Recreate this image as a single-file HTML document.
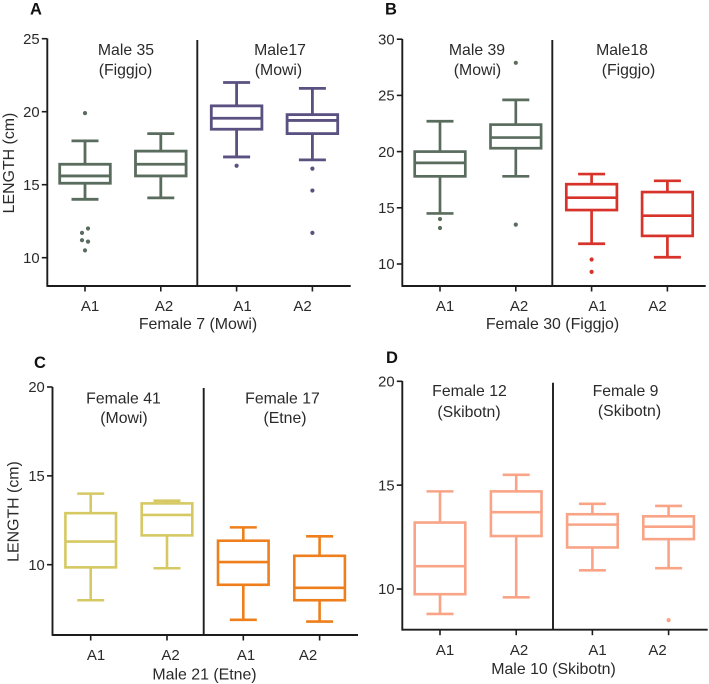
<!DOCTYPE html>
<html lang="en">
<head>
<meta charset="utf-8">
<title>Length boxplots by family</title>
<style>
  html, body { margin: 0; padding: 0; background: #fff; }
  svg { display: block; }
  text { font-family: "Liberation Sans", Arial, sans-serif; fill: #2a2a2a; }
  .group { font-size: 15.8px; text-anchor: middle; }
  .cat { font-size: 15px; text-anchor: middle; }
  .ttl { font-size: 15.9px; text-anchor: middle; }
  .letter { font-size: 16.5px; font-weight: bold; fill: #111; }
  .tick { font-size: 14.8px; text-anchor: end; }
</style>
</head>
<body>
<svg id="figure" width="709" height="684" viewBox="0 0 709 684" xmlns="http://www.w3.org/2000/svg">
  <rect x="0" y="0" width="709" height="684" fill="#fff"/>

  <g>
    <text class="letter" x="30" y="14.5">A</text>
    <text class="ttl" transform="translate(14 163) rotate(-90)">LENGTH (cm)</text>
    <text class="group" x="126" y="55">Male 35</text>
    <text class="group" x="125.5" y="75">(Figgjo)</text>
    <text class="group" x="280" y="55">Male17</text>
    <text class="group" x="278.5" y="75">(Mowi)</text>
    <text class="cat" x="90" y="311">A1</text>
    <text class="cat" x="164" y="311">A2</text>
    <text class="cat" x="242.5" y="311">A1</text>
    <text class="cat" x="302.5" y="311">A2</text>
    <text class="ttl" x="198" y="329">Female 7 (Mowi)</text>
  </g>

  <g>
    <text class="letter" x="385" y="14.5">B</text>
    <text class="group" x="477" y="55">Male 39</text>
    <text class="group" x="477.5" y="75">(Mowi)</text>
    <text class="group" x="622" y="55">Male18</text>
    <text class="group" x="628.5" y="75">(Figgjo)</text>
    <text class="cat" x="445" y="311">A1</text>
    <text class="cat" x="519" y="311">A2</text>
    <text class="cat" x="597.5" y="311">A1</text>
    <text class="cat" x="657.5" y="311">A2</text>
    <text class="ttl" x="552.5" y="329">Female 30 (Figgjo)</text>
  </g>

  <g>
    <text class="letter" x="34" y="368">C</text>
    <text class="ttl" transform="translate(18.5 511.5) rotate(-90)">LENGTH (cm)</text>
    <text class="group" x="123.5" y="403.5">Female 41</text>
    <text class="group" x="124" y="423">(Mowi)</text>
    <text class="group" x="282.5" y="403.5">Female 17</text>
    <text class="group" x="285" y="423">(Etne)</text>
    <text class="cat" x="96" y="660">A1</text>
    <text class="cat" x="170.5" y="660">A2</text>
    <text class="cat" x="246" y="660">A1</text>
    <text class="cat" x="308" y="660">A2</text>
    <text class="ttl" x="204.5" y="679.5">Male 21 (Etne)</text>
  </g>

  <g>
    <text class="letter" x="386" y="363">D</text>
    <text class="group" x="469.5" y="396">Female 12</text>
    <text class="group" x="469" y="417">(Skibotn)</text>
    <text class="group" x="625.5" y="396">Female 9</text>
    <text class="group" x="629.5" y="416">(Skibotn)</text>
    <text class="cat" x="445" y="655">A1</text>
    <text class="cat" x="519" y="655">A2</text>
    <text class="cat" x="597.5" y="655">A1</text>
    <text class="cat" x="657.5" y="655">A2</text>
    <text class="ttl" x="553.5" y="674">Male 10 (Skibotn)</text>
  </g>
</svg>

<script>
// ---------- Chart values ----------
const panelATicks = [10, 15, 20, 25];
const panelAHigh = [18.0, 18.5, 22.0, 21.6];
const panelAQ3 = [16.4, 17.3, 20.4, 19.8];
const panelAMedian = [15.6, 16.4, 19.55, 19.4];
const panelAQ1 = [15.1, 15.6, 18.8, 18.5];
const panelALow = [14.0, 14.1, 16.9, 16.7];
const panelAOutliers = [[19.9, 12.0, 11.7, 11.2, 11.1, 10.5], [], [16.3], [16.1, 14.6, 11.7]];

const panelBTicks = [10, 15, 20, 25, 30];
const panelBHigh = [22.7, 24.6, 18.0, 17.4];
const panelBQ3 = [20.0, 22.4, 17.1, 16.4];
const panelBMedian = [19.0, 21.25, 15.9, 14.3];
const panelBQ1 = [17.8, 20.3, 14.8, 12.5];
const panelBLow = [14.5, 17.8, 11.8, 10.6];
const panelBOutliers = [[14.0, 13.2], [27.9, 13.5], [10.4, 9.3], []];

const panelCTicks = [10, 15, 20];
const panelCHigh = [14.0, 13.6, 12.1, 11.6];
const panelCQ3 = [12.9, 13.45, 11.35, 10.5];
const panelCMedian = [11.3, 12.8, 10.15, 8.7];
const panelCQ1 = [9.85, 11.65, 8.87, 8.0];
const panelCLow = [8.0, 9.8, 6.9, 6.8];
const panelCOutliers = [[], [], [], []];

const panelDTicks = [10, 15, 20];
const panelDHigh = [14.7, 15.5, 14.1, 14.0];
const panelDQ3 = [13.2, 14.7, 13.6, 13.5];
const panelDMedian = [11.1, 13.7, 13.1, 13.0];
const panelDQ1 = [9.75, 12.55, 12.0, 12.4];
const panelDLow = [8.8, 9.6, 10.9, 11.0];
const panelDOutliers = [[], [], [], [8.5]];

// ---------- Drawing ----------
const NS = 'http://www.w3.org/2000/svg';
const figure = document.getElementById('figure');

function mk(parent, tag, attrs) {
  const el = document.createElementNS(NS, tag);
  for (const k in attrs) el.setAttribute(k, attrs[k]);
  parent.appendChild(el);
  return el;
}

function line(parent, x1, y1, x2, y2, color, width) {
  return mk(parent, 'line', { x1: x1, y1: y1, x2: x2, y2: y2, stroke: color, 'stroke-width': width });
}

// Spread outliers that nearly overlap: close pairs sit side by side, with alternating order.
function jitterOutliers(values) {
  const out = [];
  let sign = 1;
  for (let i = 0; i < values.length; i++) {
    if (i + 1 < values.length && values[i] - values[i + 1] <= 0.35) {
      out.push({ v: values[i], dx: 3 * sign });
      out.push({ v: values[i + 1], dx: -3 * sign });
      sign = -sign;
      i++;
    } else {
      out.push({ v: values[i], dx: 0 });
    }
  }
  return out;
}

function drawPanel(p) {
  const yScale = v => p.yAnchor - (v - p.tickBase) * p.pxPerUnit;
  const xScale = i => p.xStart + i * p.xStep;

  const g = mk(figure, 'g', {});
  
  

  const yAxis = line(g, p.left, p.top, p.left, p.bottom + 0.9, '#1c1c1c', 1.9);
  
  

  const xAxis = line(g, p.left, p.bottom, p.right, p.bottom, '#1c1c1c', 1.9);
  
  

  const divider = line(g, p.divider, p.dividerTop, p.divider, p.bottom, '#1c1c1c', 1.9);
  
  

  p.ticks.forEach(t => {
    const y = yScale(t);
    const tm = line(g, p.left - 5.5, y, p.left, y, '#1c1c1c', 1.6);
    
    
    const lab = mk(g, 'text', { class: 'tick', x: p.left - 7.7, y: y + 5.2 });
    lab.textContent = String(t);
    
    
  });

  p.median.forEach((m, i) => {
    const x = xScale(i);
    const color = p.colors[i];
    const sw = p.strokeWidth;

    const tm = line(g, x, p.bottom, x, p.bottom + 5.5, '#1c1c1c', 1.6);
    
    

    const box = mk(g, 'g', {});
    
    

    const upper = line(box, x, yScale(p.high[i]), x, yScale(p.q3[i]), color, sw);
    
    

    const lower = line(box, x, yScale(p.q1[i]), x, yScale(p.low[i]), color, sw);
    
    

    const capHi = line(box, x - 13.5, yScale(p.high[i]), x + 13.5, yScale(p.high[i]), color, sw);
    
    

    const capLo = line(box, x - 13.5, yScale(p.low[i]), x + 13.5, yScale(p.low[i]), color, sw);
    
    

    const rect = mk(box, 'rect', {
      x: x - 25.3, y: yScale(p.q3[i]), width: 50.6,
      height: yScale(p.q1[i]) - yScale(p.q3[i]),
      fill: '#fff', stroke: color, 'stroke-width': sw
    });
    
    

    const med = line(box, x - 25.3, yScale(m), x + 25.3, yScale(m), color, sw);
    
    

    jitterOutliers(p.outliers[i]).forEach(o => {
      const dot = mk(box, 'circle', { cx: x + o.dx, cy: yScale(o.v), r: 2.1, fill: color });
      
      
    });
  });
}

const GREEN = '#5a6c5e', PURPLE = '#5a5180', RED = '#d8332a',
      YELLOW = '#d6c963', ORANGE = '#ee7f1c', SALMON = '#f9a487';

drawPanel({
  id: 'a', ticks: panelATicks, high: panelAHigh, q3: panelAQ3, median: panelAMedian,
  q1: panelAQ1, low: panelALow, outliers: panelAOutliers,
  colors: [GREEN, GREEN, PURPLE, PURPLE], strokeWidth: 2.8,
  left: 47.3, right: 350.7, top: 38.5, bottom: 286, divider: 197.3, dividerTop: 40,
  yAnchor: 257.7, tickBase: 10, pxPerUnit: 14.6, xStart: 85, xStep: 75.8
});
drawPanel({
  id: 'b', ticks: panelBTicks, high: panelBHigh, q3: panelBQ3, median: panelBMedian,
  q1: panelBQ1, low: panelBLow, outliers: panelBOutliers,
  colors: [GREEN, GREEN, RED, RED], strokeWidth: 2.7,
  left: 402.3, right: 705.7, top: 39, bottom: 286, divider: 552.3, dividerTop: 40,
  yAnchor: 264, tickBase: 10, pxPerUnit: 11.24, xStart: 440, xStep: 75.8
});
drawPanel({
  id: 'c', ticks: panelCTicks, high: panelCHigh, q3: panelCQ3, median: panelCMedian,
  q1: panelCQ1, low: panelCLow, outliers: panelCOutliers,
  colors: [YELLOW, YELLOW, ORANGE, ORANGE], strokeWidth: 2.6,
  left: 52.5, right: 358, top: 387, bottom: 635, divider: 203.7, dividerTop: 388,
  yAnchor: 564.7, tickBase: 10, pxPerUnit: 17.77, xStart: 90.7, xStep: 76.3
});
drawPanel({
  id: 'd', ticks: panelDTicks, high: panelDHigh, q3: panelDQ3, median: panelDMedian,
  q1: panelDQ1, low: panelDLow, outliers: panelDOutliers,
  colors: [SALMON, SALMON, SALMON, SALMON], strokeWidth: 2.6,
  left: 402.3, right: 707.7, top: 381, bottom: 629.7, divider: 553, dividerTop: 382.7,
  yAnchor: 589, tickBase: 10, pxPerUnit: 20.77, xStart: 440, xStep: 76.2
});
</script>
</body>
</html>
